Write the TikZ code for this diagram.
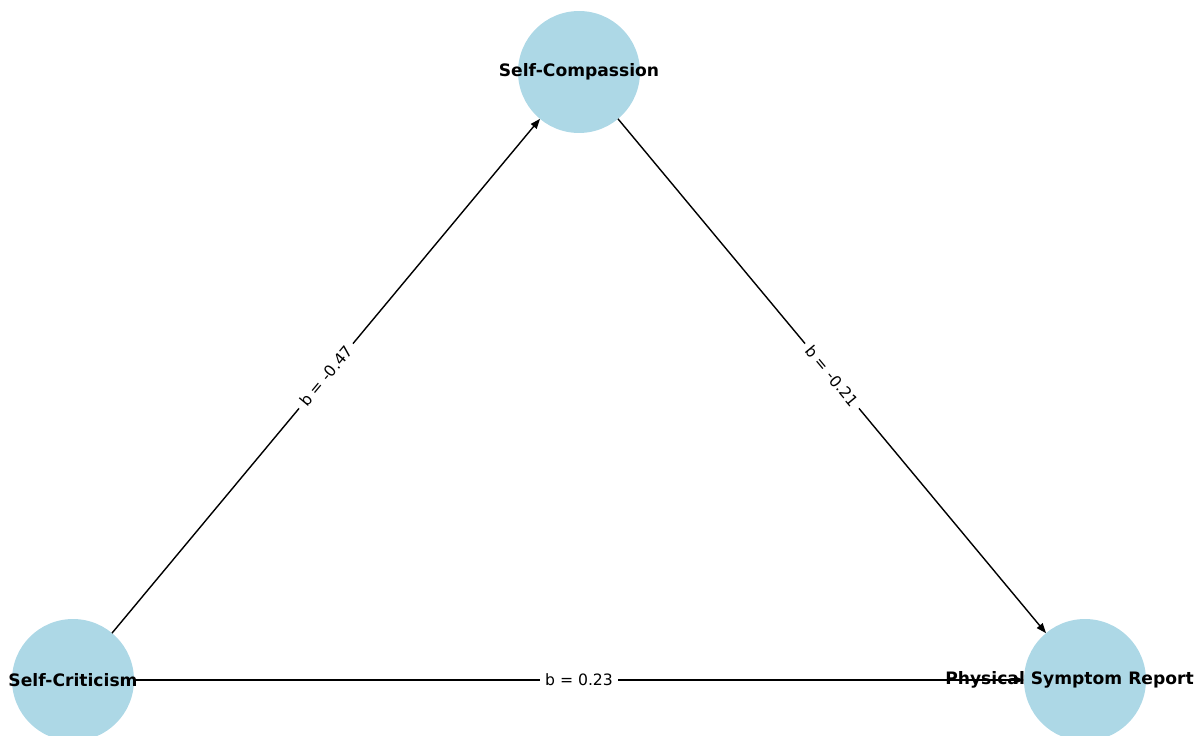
\documentclass[tikz,border=0pt]{standalone}
\usepackage{fontspec}
\setmainfont{DejaVu Sans}
\usetikzlibrary{arrows.meta}
\definecolor{nodeblue}{HTML}{ADD8E6}
\begin{document}
\begin{tikzpicture}[x=0.02cm,y=0.02cm,
  var/.style={circle,fill=nodeblue,draw=none,minimum size=2.44cm,inner sep=0pt,outer sep=0pt},
  varname/.style={font=\fontsize{9.75}{11}\selectfont\bfseries,inner sep=0pt},
  path/.style={line width=0.8pt,-{Triangle[length=5.6pt,width=4.2pt]}},
  coef/.style={font=\fontsize{8.9}{10}\selectfont,fill=white,inner xsep=3pt,inner ysep=1.5pt}]
\useasboundingbox (0,0) rectangle (1200,735);

\node[var] (sc) at (73,55) {};
\node[var] (sco) at (579,663) {};
\node[var] (psr) at (1085,55) {};

\draw[path] (sc) -- node[coef,sloped] {b = -0.47} (sco);
\draw[path] (sco) -- node[coef,sloped] {b = -0.21} (psr);
\draw[path] (sc) -- node[coef] {b = 0.23} (psr);

\node[varname] (sctext) at (sc) {Self-Criticism};
\node[varname] (scotext) at (sco) {Self-Compassion};
\node[varname,xshift=-0.31cm] (psrtext) at (psr) {Physical Symptom Report};
\end{tikzpicture}
\end{document}
